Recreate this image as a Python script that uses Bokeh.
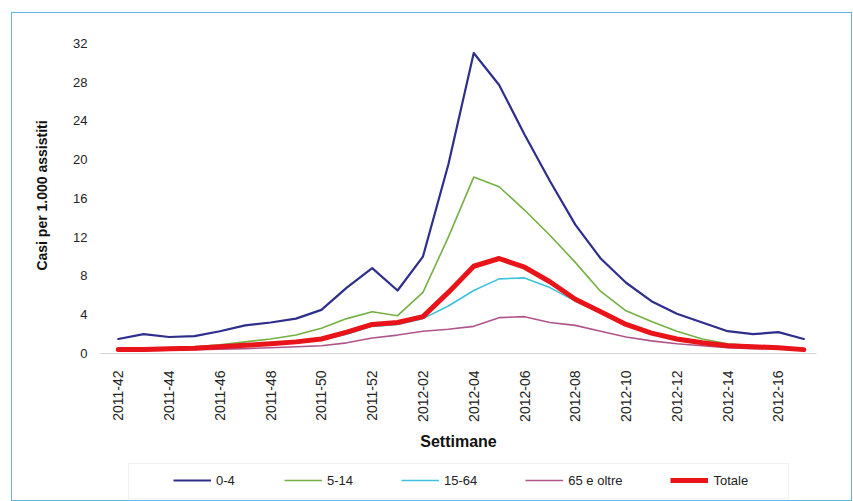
from bokeh.plotting import figure
from bokeh.models import Range1d, FixedTicker, Legend, LegendItem, BoxAnnotation
from bokeh.layouts import column
from bokeh.embed import file_html
from bokeh.resources import INLINE

weeks = ["2011-42", "2011-43", "2011-44", "2011-45", "2011-46", "2011-47", "2011-48",
         "2011-49", "2011-50", "2011-51", "2011-52", "2012-01", "2012-02", "2012-03",
         "2012-04", "2012-05", "2012-06", "2012-07", "2012-08", "2012-09", "2012-10",
         "2012-11", "2012-12", "2012-13", "2012-14", "2012-15", "2012-16", "2012-17"]

age_0_4 = [1.5, 2.0, 1.7, 1.8, 2.3, 2.9, 3.2, 3.6, 4.5, 6.8, 8.8, 6.5, 10.0, 19.5,
           31.0, 27.7, 22.6, 17.8, 13.3, 9.8, 7.3, 5.4, 4.1, 3.2, 2.3, 2.0, 2.2, 1.5]
age_5_14 = [0.4, 0.5, 0.6, 0.7, 0.9, 1.2, 1.5, 1.9, 2.6, 3.6, 4.3, 3.9, 6.3, 12.0,
            18.2, 17.2, 14.8, 12.2, 9.4, 6.4, 4.4, 3.3, 2.3, 1.5, 1.0, 0.8, 0.7, 0.5]
age_15_64 = [0.35, 0.4, 0.45, 0.5, 0.65, 0.8, 0.95, 1.1, 1.4, 2.0, 2.8, 3.0, 3.6, 4.9,
             6.5, 7.7, 7.8, 6.8, 5.4, 4.2, 2.9, 2.0, 1.4, 1.0, 0.7, 0.6, 0.5, 0.4]
age_65 = [0.3, 0.3, 0.35, 0.4, 0.45, 0.5, 0.6, 0.7, 0.8, 1.1, 1.6, 1.9, 2.3, 2.5,
          2.8, 3.7, 3.8, 3.2, 2.9, 2.3, 1.7, 1.3, 1.0, 0.8, 0.6, 0.5, 0.5, 0.4]
totale = [0.4, 0.4, 0.5, 0.55, 0.7, 0.85, 1.0, 1.2, 1.5, 2.2, 3.0, 3.2, 3.8, 6.3,
          9.0, 9.8, 8.9, 7.4, 5.6, 4.3, 3.0, 2.1, 1.5, 1.1, 0.8, 0.7, 0.6, 0.4]

series_names = ["0-4", "5-14", "15-64", "65 e oltre", "Totale"]
y_ticks = [0, 4, 8, 12, 16, 20, 24, 28, 32]

xs = list(range(len(weeks)))
FONT = "Liberation Sans"

p = figure(width=839, height=440, x_range=Range1d(-0.7, 27.5), y_range=Range1d(0, 32.6),
           output_backend="svg", toolbar_location=None,
           min_border_left=88, min_border_right=35, min_border_top=24, min_border_bottom=100)
p.background_fill_color = "white"
p.border_fill_color = "white"
p.outline_line_color = None
p.grid.visible = False

styles = [("#2E2E8C", 2.2), ("#74B043", 1.6), ("#3EC1DA", 1.6), ("#B0558A", 1.6), ("#E8141A", 5)]
data = [age_0_4, age_5_14, age_15_64, age_65, totale]
for name, ys, (col, w) in zip(series_names, data, styles):
    p.line(xs, ys, line_color=col, line_width=w, line_join="round", line_cap="round")

xa = p.xaxis[0]
xa.ticker = FixedTicker(ticks=list(range(0, len(weeks), 2)))
xa.major_label_overrides = {i: weeks[i] for i in range(0, len(weeks), 2)}
xa.major_label_orientation = 1.5707963
xa.major_label_text_font = FONT
xa.major_label_text_font_size = "14px"
xa.major_label_text_color = "#222222"
xa.major_label_standoff = 11
xa.major_tick_line_color = None
xa.minor_tick_line_color = None
xa.axis_line_color = "#D4D4D4"
xa.axis_label = "Settimane"
xa.axis_label_text_font = FONT
xa.axis_label_text_font_size = "16px"
xa.axis_label_text_font_style = "bold"
xa.axis_label_text_color = "#111111"
xa.axis_label_standoff = 8

ya = p.yaxis[0]
ya.ticker = FixedTicker(ticks=y_ticks)
ya.major_label_text_font = FONT
ya.major_label_text_font_size = "13px"
ya.major_label_text_color = "#222222"
ya.major_label_standoff = 7
ya.major_tick_line_color = None
ya.minor_tick_line_color = None
ya.axis_line_color = None
ya.axis_label = "Casi per 1.000 assistiti"
ya.axis_label_text_font = FONT
ya.axis_label_text_font_size = "14px"
ya.axis_label_text_font_style = "bold"
ya.axis_label_text_color = "#111111"
ya.axis_label_standoff = 20

# legend strip (frame aligned with main plot; x range in page pixels for the box)
lp = figure(width=839, height=47, x_range=Range1d(100, 816), y_range=Range1d(0, 38),
            output_backend="svg", toolbar_location=None,
            x_axis_type=None, y_axis_type=None,
            min_border_left=88, min_border_right=35, min_border_top=9, min_border_bottom=0)
lp.background_fill_color = "white"
lp.border_fill_color = "white"
lp.outline_line_color = None
lp.grid.visible = False
lp.extra_y_ranges = {"hidden": Range1d(1000, 1001)}
lp.add_layout(BoxAnnotation(left=128, right=788, bottom=2, top=37,
                            fill_alpha=0, line_color="#D0D0D0", line_width=1))
items = []
for name, ys, (col, w) in zip(series_names, data, styles):
    r = lp.line(xs, ys, line_color=col, line_width=w, y_range_name="hidden")
    items.append(LegendItem(label=name, renderers=[r]))

legend = Legend(items=items, orientation="horizontal", location=(73, 10))
legend.label_text_font = FONT
legend.label_text_font_size = "13px"
legend.label_text_color = "#222222"
legend.glyph_width = 38
legend.label_standoff = 5
legend.spacing = 48
legend.padding = 0
legend.margin = 0
legend.border_line_color = None
legend.background_fill_alpha = 0
lp.add_layout(legend, "center")

layout = column(p, lp, spacing=0)
layout.margin = (13, 0, 0, 12)
layout.styles = {"outline": "1px solid #62B5DC"}

open("out.html", "w").write(file_html(layout, INLINE))
